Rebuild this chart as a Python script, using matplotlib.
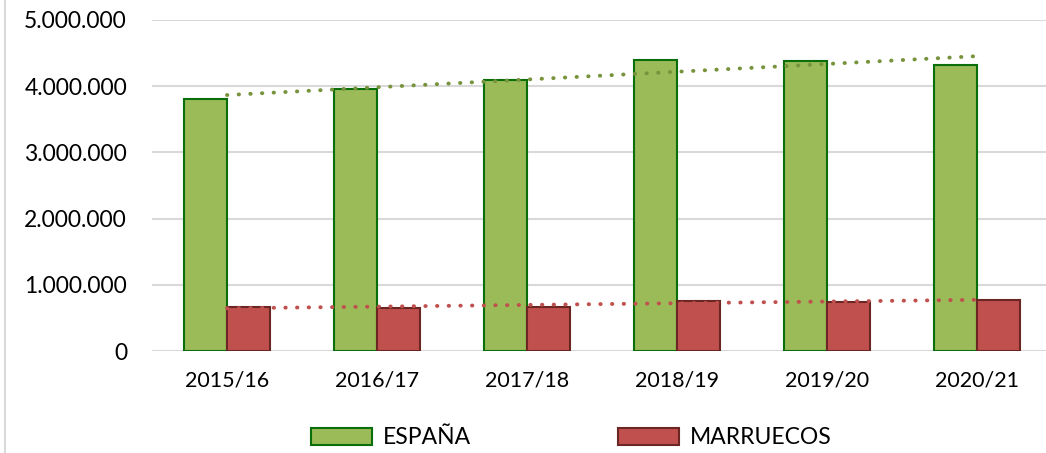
import matplotlib.pyplot as plt
import numpy as np
from matplotlib.lines import Line2D
from matplotlib.ticker import FuncFormatter

seasons = ['2015/16', '2016/17', '2017/18', '2018/19', '2019/20', '2020/21']
espana = [3810000, 3960000, 4095000, 4395000, 4380000, 4320000]
marruecos = [665000, 650000, 668000, 755000, 745000, 770000]

plt.rcParams['font.family'] = ['Lato', 'DejaVu Sans']

fig = plt.figure(figsize=(10.46, 4.53), dpi=100)
ax = fig.add_axes([152 / 1046, 102 / 453, 900 / 1046, 331 / 453])

x = np.arange(len(seasons))
w = 0.287
ax.bar(x - w / 2, espana, w, color='#9BBB59', edgecolor='#0A6E0A', linewidth=1.5,
       label='ESPAÑA', zorder=3)
ax.bar(x + w / 2, marruecos, w, color='#C0504D', edgecolor='#6B2624', linewidth=1.5,
       label='MARRUECOS', zorder=3)

# linear trend lines
for vals, col in [(espana, '#77933C'), (marruecos, '#C0504D')]:
    k, b = np.polyfit(x, vals, 1)
    ax.plot(x, k * x + b, color=col, lw=2.8, linestyle=(0, (0.1, 2.9)),
            dash_capstyle='round', zorder=4)

ax.set_ylim(0, 5000000)
ax.set_xlim(-0.5, len(seasons) - 0.5)
ax.set_yticks(np.arange(0, 5000001, 1000000))
ax.yaxis.set_major_formatter(FuncFormatter(lambda v, p: f'{v:,.0f}'.replace(',', '.')))
ax.set_xticks(x)
ax.set_xticklabels(seasons)
ax.tick_params(axis='y', length=0, pad=18, labelsize=16.5)
ax.tick_params(axis='x', length=0, pad=14, labelsize=15.5)
ax.grid(axis='y', color='#D9D9D9', lw=1.5, zorder=0)
for s in ax.spines.values():
    s.set_visible(False)

fig.add_artist(Line2D([5 / 1046, 5 / 1046], [0, 1], color='#D9D9D9', lw=1.5))

fig.legend(loc='center', bbox_to_anchor=(571 / 1046, 1 - 438 / 453), ncol=2,
           frameon=False, fontsize=16.5, handlelength=2.7, handleheight=0.7,
           columnspacing=6.4, handletextpad=0.45)

plt.savefig('out.png', dpi=100)
